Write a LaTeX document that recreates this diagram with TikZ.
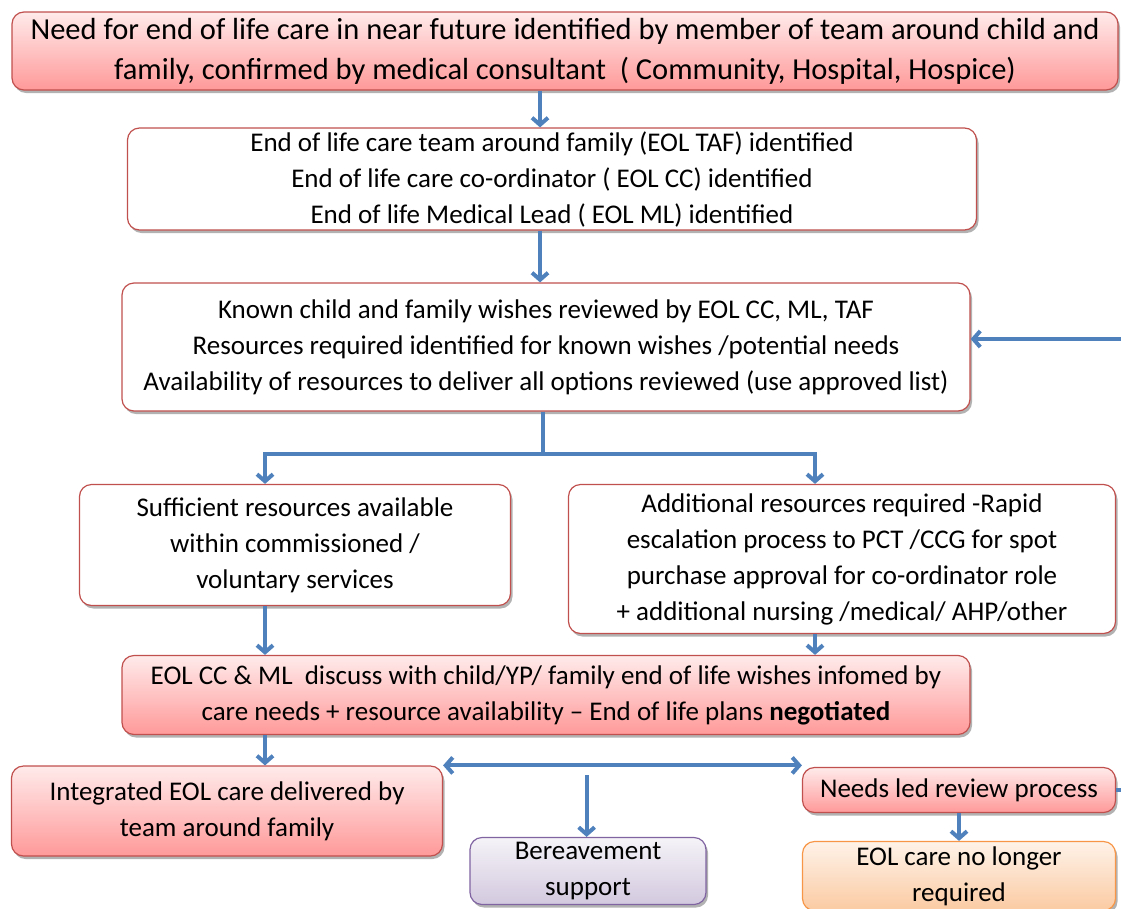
\documentclass[tikz,border=0pt]{standalone}
\usepackage{fontspec}
\setmainfont{Carlito}
\usepackage{tikz}
\usetikzlibrary{calc}
\usetikzlibrary{positioning}
\usetikzlibrary{arrows.meta}
\usetikzlibrary{shadows}

\definecolor{eolred}{HTML}{C0504D}
\definecolor{eolblue}{HTML}{4F81BD}
\definecolor{eolpurple}{HTML}{8064A2}
\definecolor{eolorange}{HTML}{F79646}

\begin{document}
\begin{tikzpicture}[x=1pt, y=-1pt,
		box/.style={draw=eolred, line width=1.2pt, rounded corners=12pt, inner sep=0pt,
			align=center, font=\fontsize{27}{36}\selectfont,
			drop shadow={shadow xshift=2pt, shadow yshift=-3pt, opacity=0.3, fill=black}},
		plainbox/.style={box, fill=white},
		redbox/.style={box, top color=red!8, bottom color=red!40},
		purplebox/.style={box, draw=eolpurple, top color=eolpurple!8, bottom color=eolpurple!35},
		orangebox/.style={box, draw=eolorange, top color=eolorange!12, bottom color=eolorange!50},
		flow/.style={draw=eolblue, line width=4pt, -{Straight Barb[length=7pt, width=16pt]}},
		flowline/.style={draw=eolblue, line width=4pt},
	]
		\clip (0, 0) rectangle (1121, 908);
		
		\node[redbox, minimum width=1106, minimum height=78, font=\fontsize{30.5}{40}\selectfont] (need) at (565, 51)
			{Need for end of life care in near future identified by member of team around child and\\
			family, confirmed by medical consultant \ ( Community, Hospital, Hospice)};
		\node[plainbox, minimum width=849, minimum height=102] (team) at (552, 179)
			{End of life care team around family (EOL TAF) identified\\
			End of life care co-ordinator ( EOL CC) identified\\
			End of life Medical Lead ( EOL ML) identified};
		\node[plainbox, minimum width=848, minimum height=128] (wishes) at (546, 347)
			{Known child and family wishes reviewed by EOL CC, ML, TAF\\
			Resources required identified for known wishes /potential needs\\
			Availability of resources to deliver all options reviewed (use approved list)};
		\node[plainbox, minimum width=431, minimum height=121] (enough) at (295, 545)
			{Sufficient resources available\\
			within commissioned /\\
			voluntary services};
		\node[plainbox, minimum width=547, minimum height=149] (extra) at (842, 559)
			{Additional resources required -Rapid\\
			escalation process to PCT /CCG for spot\\
			purchase approval for co-ordinator role\\
			+ additional nursing /medical/ AHP/other};
		\node[redbox, minimum width=848, minimum height=79] (plan) at (546, 695)
			{EOL CC \& ML \ discuss with child/YP/ family end of life wishes infomed by\\
			care needs + resource availability -- End of life plans \textbf{negotiated}};
		\node[redbox, minimum width=431, minimum height=90] (integ) at (227, 811)
			{Integrated EOL care delivered by\\
			team around family};
		\node[purplebox, minimum width=236, minimum height=67] (bereav) at (588, 871)
			{Bereavement\\
			support};
		\node[redbox, minimum width=313, minimum height=45] (review) at (959, 790)
			{Needs led review process};
		\node[orangebox, minimum width=313, minimum height=69] (nolonger) at (959, 876)
			{EOL care no longer\\
			required};
		
		\coordinate (mx) at (540, 0);
		\coordinate (lx) at (265, 0);
		\coordinate (rx) at (815, 0);
		\coordinate (split) at ($(wishes.south) + (-3, 42)$);
		\coordinate (fork) at ($(integ.north east)!0.4!(integ.north east -| review.west)$);
		
		\draw[flow] (need.south -| mx) -- (team.north -| mx);
		\draw[flow] (team.south -| mx) -- (wishes.north -| mx);
		\draw[flowline] (wishes.south -| split) -- (split);
		\draw[flow] (split) -| (enough.north -| lx);
		\draw[flow] (split) -| (extra.north -| rx);
		\draw[flow] (enough.south -| lx) -- (plan.north -| lx);
		\draw[flow] (extra.south -| rx) -- (plan.north -| rx);
		\draw[flow] (plan.south -| lx) -- (integ.north -| lx);
		\draw[flow, {Straight Barb[length=7pt, width=16pt]}-{Straight Barb[length=7pt, width=16pt]}]
			(integ.north east) -- (integ.north east -| review.west);
		\draw[flow] ($(fork) + (0, 10)$) -- (bereav.north -| fork);
		\draw[flow] (review.south) -- (nolonger.north);
		\draw[flow] (review.east) -- ++(25, 0) |- ($(wishes.east) + (0, -8)$);
		
	\end{tikzpicture}
\end{document}
